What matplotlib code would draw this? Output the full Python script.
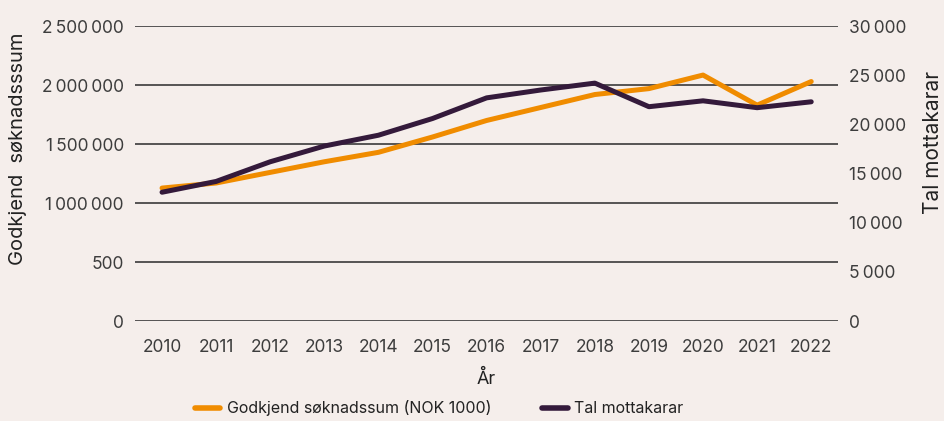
import matplotlib
matplotlib.use('Agg')

import matplotlib.pyplot as plt
import numpy as np
from matplotlib.lines import Line2D

# data
years = [2010, 2011, 2012, 2013, 2014, 2015, 2016, 2017, 2018, 2019, 2020, 2021, 2022]
sum_approved = [1127000, 1170000, 1260000, 1350000, 1430000, 1560000, 1700000,
                1810000, 1920000, 1970000, 2085000, 1830000, 2030000]  # NOK 1000
recipients = [13100, 14200, 16200, 17800, 18900, 20600, 22700,
              23500, 24200, 21800, 22400, 21700, 22300]

left_ticks = [0, 500000, 1000000, 1500000, 2000000, 2500000]
left_labels = ['0', '500', '1\u2009000\u2009000', '1\u2009500\u2009000', '2\u2009000\u2009000', '2\u2009500\u2009000']
right_ticks = [0, 5000, 10000, 15000, 20000, 25000, 30000]
right_labels = ['0', '5\u2009000', '10\u2009000', '15\u2009000', '20\u2009000', '25\u2009000', '30\u2009000']

# colors
bg = '#f5eeeb'
orange = '#f08c00'
purple = '#341a3b'
text_col = '#3d3d3d'

plt.rcParams['font.family'] = ['Inter', 'DejaVu Sans']

fig = plt.figure(figsize=(9.44, 4.21), dpi=100)
fig.patch.set_facecolor(bg)
ax = fig.add_axes([0.143, 0.2375, 0.745, 0.7005])
ax.set_facecolor(bg)

ax.plot(years, sum_approved, color=orange, lw=3.6, solid_capstyle='round', zorder=3)
ax.set_ylim(0, 2500000)
ax.set_xlim(2009.5, 2022.5)
ax.set_yticks(left_ticks)
ax.set_yticklabels(left_labels)
ax.set_xticks(years)
ax.grid(axis='y', color='#2a2a2a', lw=1.1, zorder=0)
ax.set_axisbelow(True)
for s in ax.spines.values():
    s.set_visible(False)
ax.tick_params(axis='both', length=0, labelsize=12.5, colors=text_col)
ax.tick_params(axis='y', pad=8)
ax.tick_params(axis='x', pad=13)
ax.set_ylabel('Godkjend  søknadsssum', fontsize=14.5, color='#222222')
ax.yaxis.set_label_coords(-0.153, 0.585)
ax.set_xlabel('År', fontsize=13, color='#222222', labelpad=10)

ax2 = ax.twinx()
ax2.plot(years, recipients, color=purple, lw=3.6, solid_capstyle='round', zorder=4)
ax2.set_ylim(0, 30000)
ax2.set_yticks(right_ticks)
ax2.set_yticklabels(right_labels)
for s in ax2.spines.values():
    s.set_visible(False)
ax2.tick_params(axis='y', length=0, labelsize=12.5, colors=text_col, pad=8)
ax2.set_ylabel('Tal mottakarar', fontsize=15, color='#222222')
ax2.yaxis.set_label_coords(1.121, 0.607)

handles = [Line2D([0], [0], color=orange, lw=4, solid_capstyle='round'),
           Line2D([0], [0], color=purple, lw=4, solid_capstyle='round')]
fig.legend(handles, ['Godkjend søknadssum (NOK 1000)', 'Tal mottakarar'],
           loc='center', bbox_to_anchor=(0.465, 0.03), ncol=2, frameon=False,
           fontsize=11.5, handlelength=1.6, handletextpad=0.4, columnspacing=3.2,
           labelcolor='#222222')

plt.savefig('out.png', dpi=100, facecolor=bg)
